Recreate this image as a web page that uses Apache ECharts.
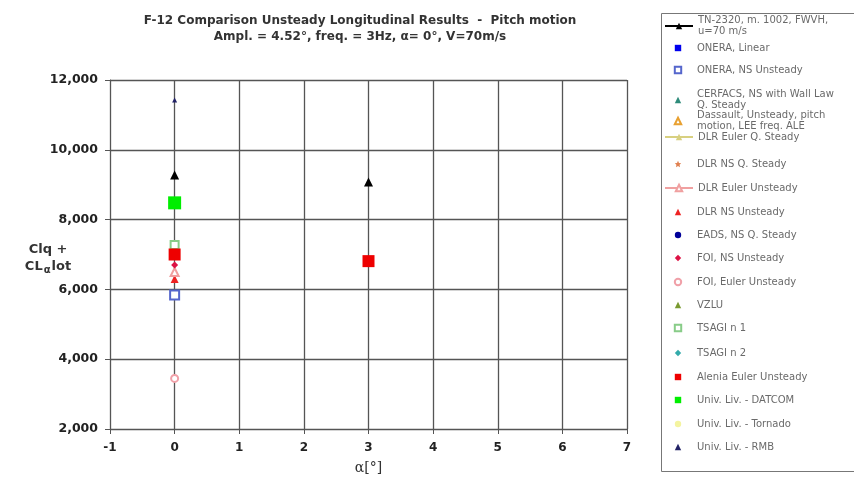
<!DOCTYPE html>
<html><head><meta charset="utf-8">
<script src="https://cdn.jsdelivr.net/npm/echarts@6/dist/echarts.min.js"></script>
<style>html,body{margin:0;padding:0;background:#fff}#c{width:854px;height:489px}</style>
</head><body><div id="c"></div>
<script>
// ---- data ----
const seriesNames = [
  "TN-2320, m. 1002, FWVH,\nu=70 m/s",
  "ONERA, Linear",
  "ONERA, NS Unsteady",
  "CERFACS, NS with Wall Law\nQ. Steady",
  "Dassault, Unsteady, pitch\nmotion, LEE freq. ALE",
  "DLR Euler Q. Steady",
  "DLR NS Q. Steady",
  "DLR Euler Unsteady",
  "DLR NS Unsteady",
  "EADS, NS Q. Steady",
  "FOI, NS Unsteady",
  "FOI, Euler Unsteady",
  "VZLU",
  "TSAGI n 1",
  "TSAGI n 2",
  "Alenia Euler Unsteady",
  "Univ. Liv. - DATCOM",
  "Univ. Liv. - Tornado",
  "Univ. Liv. - RMB"
];
// alpha [deg] and Clq + CL_alpha_dot values per series
const tn2320 = [[0, 9280], [3, 9080]];
const oneraLinear = [];
const oneraNS = [[0, 5840]];
const cerfacs = [];
const dassault = [];
const dlrEulerQS = [];
const dlrNSQS = [];
const dlrEulerUnst = [[0, 6500]];
const dlrNSUnst = [[0, 6300]];
const eads = [];
const foiNS = [[0, 6700]];
const foiEuler = [[0, 3450]];
const vzlu = [];
const tsagi1 = [[0, 7270]];
const tsagi2 = [];
const alenia = [[0, 7000], [3, 6810]];
const datcom = [[0, 8480]];
const tornado = [[0, 8420]];
const rmb = [[0, 11430]];
const seriesData = [tn2320, oneraLinear, oneraNS, cerfacs, dassault, dlrEulerQS, dlrNSQS,
  dlrEulerUnst, dlrNSUnst, eads, foiNS, foiEuler, vzlu, tsagi1, tsagi2, alenia, datcom, tornado, rmb];
const xTicks = [-1, 0, 1, 2, 3, 4, 5, 6, 7];
const yTicks = [2000, 4000, 6000, 8000, 10000, 12000];

// ---- styles ----
const FONT = 'DejaVu Sans, Arial';
const styles = [
  {type:'line', symbol:'triangle', size:9, color:'#000000'},
  {type:'scatter', symbol:'rect', size:8, color:'#0000ee'},
  {type:'scatter', symbol:'emptyRect', size:9, color:'#5566cc'},
  {type:'scatter', symbol:'triangle', size:7, color:'#2e8b7a'},
  {type:'scatter', symbol:'emptyTriangle', size:8, color:'#e8a030'},
  {type:'line', symbol:'triangle', size:7, color:'#d8d080'},
  {type:'scatter', symbol:'path://M0,-10L2.9,-4L9.5,-3.1L4.7,1.5L5.9,8.1L0,5L-5.9,8.1L-4.7,1.5L-9.5,-3.1L-2.9,-4Z', size:7, color:'#e08050'},
  {type:'line', symbol:'emptyTriangle', size:8, color:'#f0a0a0'},
  {type:'scatter', symbol:'triangle', size:8, color:'#ee2222'},
  {type:'scatter', symbol:'circle', size:6, color:'#000099'},
  {type:'scatter', symbol:'diamond', size:7, color:'#dd1144'},
  {type:'scatter', symbol:'emptyCircle', size:7, color:'#f0a0a8'},
  {type:'scatter', symbol:'triangle', size:7, color:'#7a9a30'},
  {type:'scatter', symbol:'emptyRect', size:8, color:'#88cc88'},
  {type:'scatter', symbol:'diamond', size:6, color:'#33aaaa'},
  {type:'scatter', symbol:'rect', size:12, color:'#ee0000'},
  {type:'scatter', symbol:'rect', size:13, color:'#00ee00'},
  {type:'scatter', symbol:'circle', size:6, color:'#f4f4a0'},
  {type:'scatter', symbol:'triangle', size:5, color:'#222266'}
];
const legendCenters = [26, 48, 70, 100, 121, 137, 164, 188, 212, 235, 258, 282, 305, 328, 353, 377, 400, 424, 447];
const drawOrder = [17, 13, 16, 0, 18, 2, 11, 8, 7, 10, 15];

const series = seriesNames.map((name, i) => {
  const st = styles[i];
  const d = [];
  seriesData[i].forEach((p, k) => { if (k > 0) d.push('-'); d.push(p); });
  return {
    name: name, type: 'line',
    data: d,
    symbol: st.symbol, symbolSize: st.size,
    showSymbol: true,
    connectNulls: false,
    itemStyle: {color: st.color, borderColor: st.color, borderWidth: st.symbol.startsWith('empty') ? 1.2 : 0},
    lineStyle: {color: st.color, width: st.type === 'line' ? 1 : 0},
    z: 3 + drawOrder.indexOf(i),
    animation: false
  };
});

const legends = seriesNames.map((name, i) => {
  const lines = name.split('\n').length;
  const h = lines * 11;
  return {
    data: [name], left: 664, top: legendCenters[i] - h / 2,
    orient: 'vertical', itemWidth: 28, itemHeight: 8, itemGap: 0,
    padding: 0, selectedMode: false,
    textStyle: {fontFamily: FONT, fontSize: 10, color: '#6a6a6a', lineHeight: 11, padding: [0,0,0,0]}
  };
});

const chart = echarts.init(document.getElementById('c'), null, {renderer: 'canvas'});
chart.setOption({
  backgroundColor: '#fff',
  animation: false,
  title: {
    text: 'F-12 Comparison Unsteady Longitudinal Results  -  Pitch motion',
    subtext: 'Ampl. = 4.52°, freq. = 3Hz, α= 0°, V=70m/s',
    left: 355, top: 10, textAlign: 'center', itemGap: 4,
    textStyle: {fontFamily: FONT, fontSize: 12, fontWeight: 'bold', color: '#333'},
    subtextStyle: {fontFamily: FONT, fontSize: 12, fontWeight: 'bold', color: '#333'}
  },
  legend: legends,
  graphic: [
    {type: 'rect', shape: {x: 661.5, y: 13.5, width: 200, height: 458}, style: {fill: 'none', stroke: '#777', lineWidth: 1}, z: 0},
    {type: 'text', x: 48, y: 241, style: {
      text: 'Clq +\nCL{s|α}lot', align: 'center',
      font: 'bold 13px DejaVu Sans, Arial', fill: '#333', lineHeight: 17,
      rich: {s: {font: 'bold 10px DejaVu Sans, Arial', fill: '#333', verticalAlign: 'bottom', padding: [8,1,0,1]}}
    }}
  ],
  grid: {left: 110, right: 227, top: 80, bottom: 60, containLabel: false},
  xAxis: {
    type: 'value', min: xTicks[0], max: xTicks[xTicks.length - 1], interval: 1,
    name: 'α[°]', nameLocation: 'middle', nameGap: 32,
    nameTextStyle: {fontFamily: 'DejaVu Serif, Liberation Serif', fontSize: 14, color: '#333'},
    axisLine: {show: true, onZero: false, lineStyle: {color: '#555', width: 1}},
    axisTick: {show: true, length: 5, lineStyle: {color: '#555'}},
    axisLabel: {fontFamily: FONT, fontSize: 12, fontWeight: 'bold', color: '#222', margin: 13},
    splitLine: {show: true, lineStyle: {color: '#555', width: 1.3}}
  },
  yAxis: {
    type: 'value', min: yTicks[0], max: yTicks[yTicks.length - 1], interval: 2000,
    axisLine: {show: true, onZero: false, lineStyle: {color: '#555', width: 1}},
    axisTick: {show: true, length: 5, lineStyle: {color: '#555'}},
    axisLabel: {fontFamily: FONT, fontSize: 12.5, fontWeight: 'bold', color: '#222', margin: 12,
      formatter: v => v.toLocaleString('en-US')},
    splitLine: {show: true, lineStyle: {color: '#555', width: 1.3}}
  },
  series: series
});
</script>
</body></html>
